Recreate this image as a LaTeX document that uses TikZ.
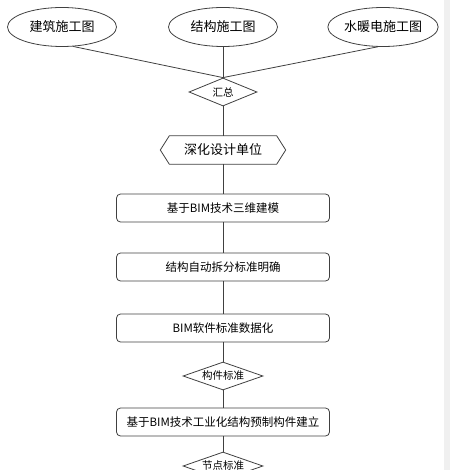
\documentclass[tikz,border=0pt]{standalone}
\usepackage{fontspec}
\setmainfont{Noto Sans CJK SC}
\usetikzlibrary{shapes.geometric,calc}
\begin{document}
\begin{tikzpicture}[x=1pt,y=-1pt,
  line/.style={draw=black!75,line width=0.8pt},
  oval/.style={ellipse,line,minimum width=109pt,minimum height=39pt,inner sep=0pt,font=\fontsize{13}{13}\selectfont},
  dia/.style={diamond,line,aspect=3,inner sep=0pt,minimum width=#1,minimum height=28pt,font=\fontsize{10.5}{10.5}\selectfont},
  box/.style={rectangle,rounded corners=4pt,line,minimum width=213pt,minimum height=28pt,inner sep=0pt,font=\fontsize{11.5}{11.5}\selectfont},
  hexcore/.style={rectangle,minimum width=107pt,minimum height=28pt,inner sep=0pt,font=\fontsize{13}{13}\selectfont}
]
\useasboundingbox (0,0) rectangle (450,470);
\clip (0,0) rectangle (450,470);
\fill[black!6] (444,0) rectangle (450,470);

\node[oval] (e1) at (62,27) {建筑施工图};
\node[oval] (e2) at (223,27) {结构施工图};
\node[oval] (e3) at (383,27) {水暖电施工图};

\node[dia=68pt] (d1) at (223,92) {汇总};

\node[hexcore] (hex) at (223,150) {深化设计单位};
\draw[line] (hex.north west) -- (hex.north east) -- ($(hex.east)+(9,0)$) -- (hex.south east) -- (hex.south west) -- ($(hex.west)+(-9,0)$) -- cycle;

\node[box] (b1) at (223,208) {基于BIM技术三维建模};
\node[box] (b2) at (223,267) {结构自动拆分标准明确};
\node[box] (b3) at (223,328) {BIM软件标准数据化};
\node[dia=80pt] (d2) at (223,376) {构件标准};
\node[box] (b4) at (223,422) {基于BIM技术工业化结构预制构件建立};
\node[dia=80pt] (d3) at (223,466) {节点标准};

\draw[line] (e1.-60) -- (d1.north);
\draw[line] (e2.south) -- (d1.north);
\draw[line] (e3.-105) -- (d1.north);
\draw[line] (d1.south) -- (hex.north);
\draw[line] (hex.south) -- (b1.north);
\draw[line] (b1.south) -- (b2.north);
\draw[line] (b2.south) -- (b3.north);
\draw[line] (b3.south) -- (d2.north);
\draw[line] (d2.south) -- (b4.north);
\draw[line] (b4.south) -- (d3.north);
\end{tikzpicture}
\end{document}
